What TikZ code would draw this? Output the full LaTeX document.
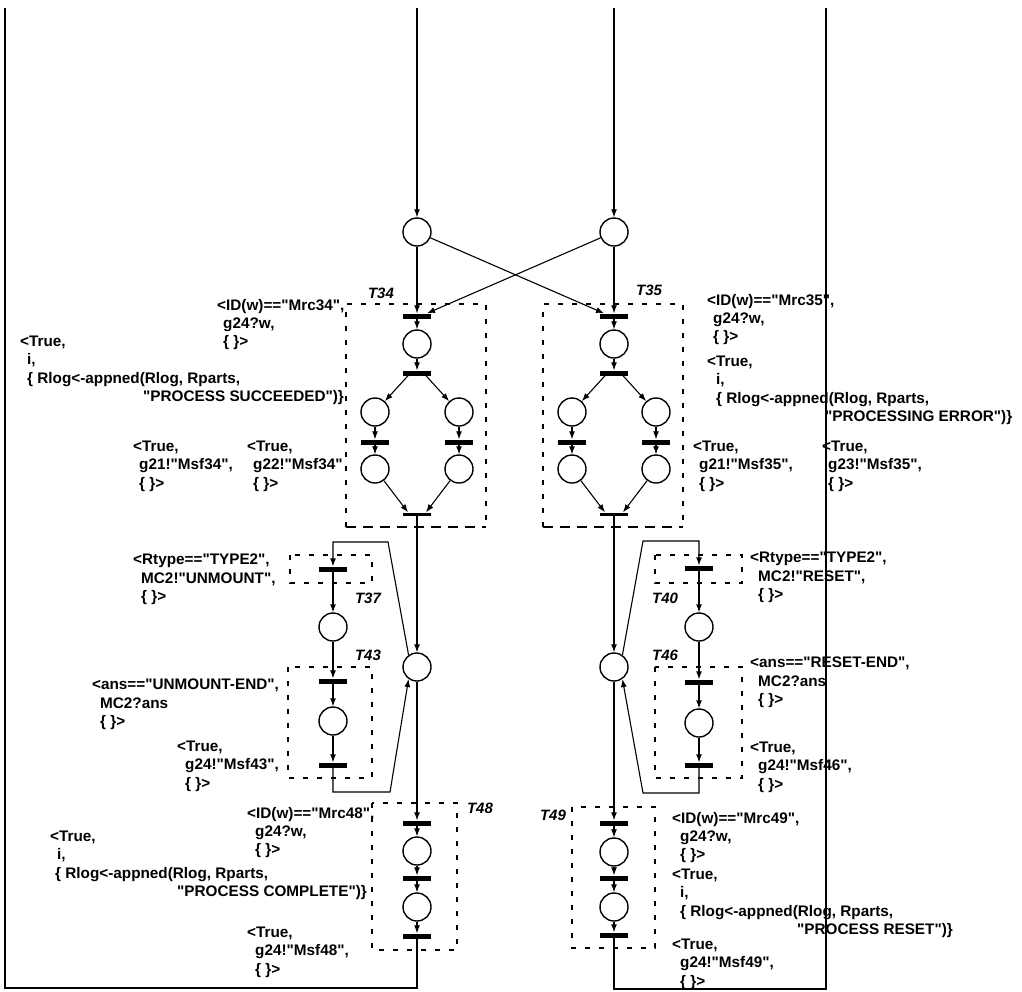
\documentclass[tikz,border=0pt]{standalone}
\usepackage{fontspec}
\newfontfamily\lblfont{Liberation Sans}
\usetikzlibrary{arrows.meta}
\begin{document}
\begin{tikzpicture}[x=1pt,y=-1pt,
  place/.style={circle, draw, line width=1.4pt, minimum size=28pt, inner sep=0pt},
  tbar/.style={rectangle, fill=black, minimum width=28pt, minimum height=5pt, inner sep=0pt},
  thinbar/.style={rectangle, fill=black, minimum width=28pt, minimum height=3pt, inner sep=0pt},
  arc/.style={line width=1.1pt, -{Latex[length=8pt,width=6pt]}},
  loopline/.style={line width=1.6pt, line join=miter},
  tbox/.style={line width=1.1pt, dash pattern=on 5pt off 9pt},
  thickdash/.style={line width=2.2pt, dash pattern=on 10pt off 7pt},
  lbl/.style={font=\fontsize{15.3pt}{18.2pt}\lblfont\bfseries, align=left, anchor=north west, inner sep=0pt},
  tname/.style={font=\fontsize{15pt}{18pt}\lblfont\bfseries\itshape, inner sep=0pt},
]
\useasboundingbox (0,0) rectangle (1022,991);

% ---------- top places ----------
\coordinate (inL) at (417,8);
\coordinate (inR) at (614,8);
\node[place] (PL0) at (417,232) {};
\node[place] (PR0) at (614,232) {};

% ---------- T34 block ----------
\node[tbar] (T34a) at (417,316) {};
\node[place] (P34a) at (417,344) {};
\node[tbar] (T34b) at (417,373) {};
\node[place] (P34l) at (375,412) {};
\node[place] (P34r) at (459,412) {};
\node[tbar] (T34l) at (375,442) {};
\node[tbar] (T34r) at (459,442) {};
\node[place] (P34l2) at (375,469) {};
\node[place] (P34r2) at (459,469) {};
\node[thinbar] (J34) at (417,514) {};

% ---------- T35 block ----------
\node[tbar] (T35a) at (614,316) {};
\node[place] (P35a) at (614,344) {};
\node[tbar] (T35b) at (614,373) {};
\node[place] (P35l) at (572,412) {};
\node[place] (P35r) at (656,412) {};
\node[tbar] (T35l) at (572,442) {};
\node[tbar] (T35r) at (656,442) {};
\node[place] (P35l2) at (572,469) {};
\node[place] (P35r2) at (656,469) {};
\node[thinbar] (J35) at (614,514) {};

% ---------- middle places ----------
\node[place] (PL1) at (417,667) {};
\node[place] (PR1) at (614,667) {};

% ---------- T37 / T43 ----------
\node[tbar] (T37) at (333,569) {};
\node[place] (P37) at (333,627) {};
\node[tbar] (T43a) at (333,681) {};
\node[place] (P43) at (333,721) {};
\node[tbar] (T43b) at (333,765) {};

% ---------- T40 / T46 ----------
\node[tbar] (T40) at (699,568) {};
\node[place] (P40) at (699,627) {};
\node[tbar] (T46a) at (699,682) {};
\node[place] (P46) at (699,723) {};
\node[tbar] (T46b) at (699,765) {};

% ---------- T48 ----------
\node[tbar] (T48a) at (417,823) {};
\node[place] (P48a) at (417,851) {};
\node[tbar] (T48b) at (417,878) {};
\node[place] (P48b) at (417,907) {};
\node[tbar] (T48c) at (417,936) {};

% ---------- T49 ----------
\node[tbar] (T49a) at (614,823) {};
\node[place] (P49a) at (614,852) {};
\node[tbar] (T49b) at (614,878) {};
\node[place] (P49b) at (614,907) {};
\node[tbar] (T49c) at (614,935) {};

% ---------- dashed transition boxes ----------
\draw[tbox] (346,527) -- (346,304) -- (486,304) -- (486,527);
\draw[thickdash] (346,527) -- (486,527);
\draw[tbox] (543,527) -- (543,304) -- (683,304) -- (683,527);
\draw[thickdash] (543,527) -- (683,527);
\draw[tbox] (290,555) rectangle (372,583);
\draw[tbox] (288,667) rectangle (372,778);
\draw[tbox] (655,555) rectangle (742,583);
\draw[tbox] (655,667) rectangle (742,778);
\draw[tbox] (372,803) rectangle (457,950);
\draw[tbox] (572,807) rectangle (655,948);

% ---------- transition names ----------
\node[tname] (N34) at (381,293) {T34};
\node[tname] (N35) at (649,290) {T35};
\node[tname] (N37) at (368,598) {T37};
\node[tname] (N43) at (368,655) {T43};
\node[tname] (N40) at (665,598) {T40};
\node[tname] (N46) at (665,655) {T46};
\node[tname] (N48) at (480,808) {T48};
\node[tname] (N49) at (553,815) {T49};

% ---------- arcs ----------
\draw[arc] (inL) -- (PL0);
\draw[arc] (inR) -- (PR0);
\draw[arc] (PL0) -- (T34a);
\draw[arc] (PR0) -- (T35a);
\draw[arc] (PL0) -- ([xshift=-10pt]T35a.north);
\draw[arc] (PR0) -- ([xshift=10pt]T34a.north);

\draw[arc] (T34a) -- (P34a);
\draw[arc] (P34a) -- (T34b);
\draw[arc] ([xshift=-9pt]T34b.south) -- (P34l);
\draw[arc] ([xshift=9pt]T34b.south) -- (P34r);
\draw[arc] (P34l) -- (T34l);
\draw[arc] (P34r) -- (T34r);
\draw[arc] (T34l) -- (P34l2);
\draw[arc] (T34r) -- (P34r2);
\draw[arc] (P34l2) -- ([xshift=-9pt]J34.north);
\draw[arc] (P34r2) -- ([xshift=9pt]J34.north);
\draw[arc] (J34) -- (PL1);

\draw[arc] (T35a) -- (P35a);
\draw[arc] (P35a) -- (T35b);
\draw[arc] ([xshift=-9pt]T35b.south) -- (P35l);
\draw[arc] ([xshift=9pt]T35b.south) -- (P35r);
\draw[arc] (P35l) -- (T35l);
\draw[arc] (P35r) -- (T35r);
\draw[arc] (T35l) -- (P35l2);
\draw[arc] (T35r) -- (P35r2);
\draw[arc] (P35l2) -- ([xshift=-9pt]J35.north);
\draw[arc] (P35r2) -- ([xshift=9pt]J35.north);
\draw[arc] (J35) -- (PR1);

% left loop T37/T43
\coordinate (c37a) at (388,542);
\coordinate (c37b) at (333,542);
\draw[arc] (PL1.125) -- (c37a) -- (c37b) -- (T37);
\draw[arc] (T37) -- (P37);
\draw[arc] (P37) -- (T43a);
\draw[arc] (T43a) -- (P43);
\draw[arc] (P43) -- (T43b);
\coordinate (c43a) at (333,792);
\coordinate (c43b) at (390,792);
\draw[arc] (T43b) -- (c43a) -- (c43b) -- (PL1.235);

% right loop T40/T46
\coordinate (c40a) at (643,541);
\coordinate (c40b) at (699,541);
\draw[arc] (PR1.55) -- (c40a) -- (c40b) -- (T40);
\draw[arc] (T40) -- (P40);
\draw[arc] (P40) -- (T46a);
\draw[arc] (T46a) -- (P46);
\draw[arc] (P46) -- (T46b);
\coordinate (c46a) at (699,793);
\coordinate (c46b) at (643,793);
\draw[arc] (T46b) -- (c46a) -- (c46b) -- (PR1.305);

% T48 / T49 chains
\draw[arc] (PL1) -- (T48a);
\draw[arc] (T48a) -- (P48a);
\draw[arc] (P48a) -- (T48b);
\draw[arc] (T48b) -- (P48b);
\draw[arc] (P48b) -- (T48c);
\draw[arc] (PR1) -- (T49a);
\draw[arc] (T49a) -- (P49a);
\draw[arc] (P49a) -- (T49b);
\draw[arc] (T49b) -- (P49b);
\draw[arc] (P49b) -- (T49c);

% outer return lines
\coordinate (bl1) at (417,988);
\coordinate (bl2) at (5,988);
\coordinate (bl3) at (5,8);
\draw[loopline] (T48c) -- (bl1) -- (bl2) -- (bl3);
\coordinate (br1) at (614,989);
\coordinate (br2) at (826,989);
\coordinate (br3) at (826,8);
\draw[loopline] (T49c) -- (br1) -- (br2) -- (br3);

% ---------- inscriptions ----------
\node[lbl] (a1) at (217,299) {<ID(w)=="Mrc34",\\\hspace*{6pt}g24?w,\\\hspace*{6pt}\{ \}>};
\node[lbl] (a2) at (20,336) {<True,\\\hspace*{7pt}i,\\\hspace*{7pt}\{ Rlog<-appned(Rlog, Rparts,\\\hspace*{123pt}"PROCESS SUCCEEDED")\}};
\node[lbl] (a3) at (133,441) {<True,\\\hspace*{6pt}g21!"Msf34",\\\hspace*{6pt}\{ \}>};
\node[lbl] (a4) at (247,441) {<True,\\\hspace*{6pt}g22!"Msf34"\\\hspace*{6pt}\{ \}>};
\node[lbl] (a5) at (707,294) {<ID(w)=="Mrc35",\\\hspace*{6pt}g24?w,\\\hspace*{6pt}\{ \}>};
\node[lbl] (a6) at (707,356) {<True,\\\hspace*{9pt}i,\\\hspace*{9pt}\{ Rlog<-appned(Rlog, Rparts,\\\hspace*{118pt}"PROCESSING ERROR")\}};
\node[lbl] (a7) at (693,441) {<True,\\\hspace*{6pt}g21!"Msf35",\\\hspace*{6pt}\{ \}>};
\node[lbl] (a8) at (822,441) {<True,\\\hspace*{6pt}g23!"Msf35",\\\hspace*{6pt}\{ \}>};
\node[lbl] (a9) at (133,554) {<Rtype=="TYPE2",\\\hspace*{8pt}MC2!"UNMOUNT",\\\hspace*{8pt}\{ \}>};
\node[lbl] (a10) at (92,679) {<ans=="UNMOUNT-END",\\\hspace*{8pt}MC2?ans\\\hspace*{8pt}\{ \}>};
\node[lbl] (a11) at (177,741) {<True,\\\hspace*{8pt}g24!"Msf43",\\\hspace*{8pt}\{ \}>};
\node[lbl] (a12) at (750,552) {<Rtype=="TYPE2",\\\hspace*{8pt}MC2!"RESET",\\\hspace*{8pt}\{ \}>};
\node[lbl] (a13) at (750,657) {<ans=="RESET-END",\\\hspace*{8pt}MC2?ans\\\hspace*{8pt}\{ \}>};
\node[lbl] (a14) at (750,742) {<True,\\\hspace*{8pt}g24!"Msf46",\\\hspace*{8pt}\{ \}>};
\node[lbl] (a15) at (247,807) {<ID(w)=="Mrc48",\\\hspace*{8pt}g24?w,\\\hspace*{8pt}\{ \}>};
\node[lbl] (a16) at (50,831) {<True,\\\hspace*{7pt}i,\\\hspace*{5pt}\{ Rlog<-appned(Rlog, Rparts,\\\hspace*{127pt}"PROCESS COMPLETE")\}};
\node[lbl] (a17) at (247,927) {<True,\\\hspace*{8pt}g24!"Msf48",\\\hspace*{8pt}\{ \}>};
\node[lbl] (a18) at (672,812) {<ID(w)=="Mrc49",\\\hspace*{8pt}g24?w,\\\hspace*{8pt}\{ \}>};
\node[lbl] (a19) at (672,869) {<True,\\\hspace*{8pt}i,\\\hspace*{8pt}\{ Rlog<-appned(Rlog, Rparts,\\\hspace*{125pt}"PROCESS RESET")\}};
\node[lbl] (a20) at (672,939) {<True,\\\hspace*{8pt}g24!"Msf49",\\\hspace*{8pt}\{ \}>};
\end{tikzpicture}
\end{document}
